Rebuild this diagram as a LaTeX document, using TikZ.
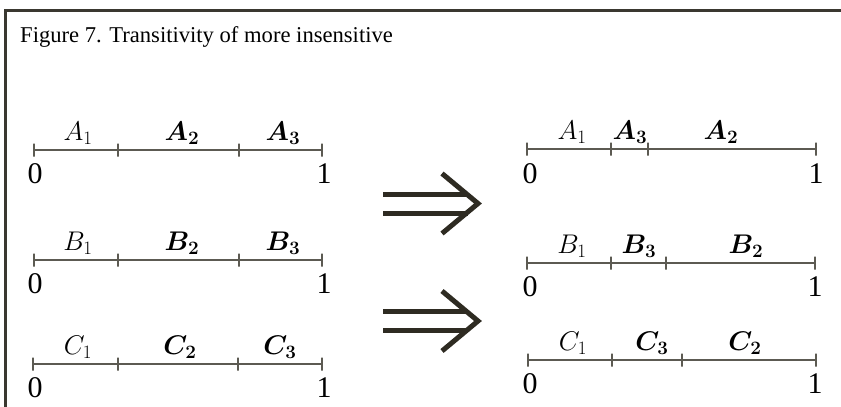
\RequirePackage{fix-cm}
\documentclass[tikz,border=0pt]{standalone}
\usepackage{fontspec}
\setmainfont{Liberation Serif}
\usepackage{bm}
\definecolor{trFrame}{HTML}{3A3830}
\definecolor{trGray}{HTML}{5C5A52}
\definecolor{trDark}{HTML}{2E2B22}
\begin{document}
\begin{tikzpicture}[x=1pt,y=-1pt]
\tikzset{
    trTitle/.style={anchor=base west,inner sep=0pt,font=\fontsize{22.6}{27}\selectfont},
    trEnd/.style={anchor=base,inner sep=0pt,font=\fontsize{30}{34}\selectfont},
    trLab/.style={anchor=base,inner sep=0pt,font=\fontsize{27}{32}\selectfont},
    trTick/.style={rectangle,draw=trGray,line width=1.3pt,minimum width=0pt,minimum height=13pt,inner sep=0pt},
    trLine/.style={draw=trGray,line width=1.4pt},
    trBars/.style={draw=trDark,line width=5pt,double=white,double distance=14pt},
    trHead/.style={draw=trDark,line width=5pt,line join=miter},
}
\useasboundingbox (0,0) rectangle (841,407);
\draw[trFrame,line width=3pt] (841,10) -- (5,10) -- (5,407);
\node[trTitle] (title) at (20,42) {Figure 7. Transitivity of more insensitive};

% left: A
\node[trTick] (la0) at (34,150) {};
\node[trTick] (la1) at (118,150) {};
\node[trTick] (la2) at (239,150) {};
\node[trTick] (la3) at (322,150) {};
\draw[trLine] (la0) -- (la3);
\node[trLab] (laA1) at (78,140) {$A_1$};
\node[trLab] (laA2) at (182,140) {$\bm{A_2}$};
\node[trLab] (laA3) at (283,140) {$\bm{A_3}$};
\node[trEnd] (laz) at (35,183) {0};
\node[trEnd] (lao) at (324,183) {1};

% left: B
\node[trTick] (lb0) at (34,260) {};
\node[trTick] (lb1) at (118,260) {};
\node[trTick] (lb2) at (239,260) {};
\node[trTick] (lb3) at (322,260) {};
\draw[trLine] (lb0) -- (lb3);
\node[trLab] (lbB1) at (78,250) {$B_1$};
\node[trLab] (lbB2) at (182,250) {$\bm{B_2}$};
\node[trLab] (lbB3) at (283,250) {$\bm{B_3}$};
\node[trEnd] (lbz) at (35,293) {0};
\node[trEnd] (lbo) at (324,293) {1};

% left: C
\node[trTick] (lc0) at (33,364) {};
\node[trTick] (lc1) at (118,364) {};
\node[trTick] (lc2) at (238,364) {};
\node[trTick] (lc3) at (322,364) {};
\draw[trLine] (lc0) -- (lc3);
\node[trLab] (lcC1) at (78,354) {$C_1$};
\node[trLab] (lcC2) at (180,354) {$\bm{C_2}$};
\node[trLab] (lcC3) at (280,354) {$\bm{C_3}$};
\node[trEnd] (lcz) at (35,397) {0};
\node[trEnd] (lco) at (324,397) {1};

% right: A
\node[trTick] (ra0) at (527,149) {};
\node[trTick] (ra1) at (611,149) {};
\node[trTick] (ra2) at (648,149) {};
\node[trTick] (ra3) at (816,149) {};
\draw[trLine] (ra0) -- (ra3);
\node[trLab] (raA1) at (572,139) {$A_1$};
\node[trLab] (raA3) at (630,139) {$\bm{A_3}$};
\node[trLab] (raA2) at (721,139) {$\bm{A_2}$};
\node[trEnd] (raz) at (530,183) {0};
\node[trEnd] (rao) at (816,183) {1};

% right: B
\node[trTick] (rb0) at (527,263) {};
\node[trTick] (rb1) at (611,263) {};
\node[trTick] (rb2) at (666,263) {};
\node[trTick] (rb3) at (815,263) {};
\draw[trLine] (rb0) -- (rb3);
\node[trLab] (rbB1) at (572,253) {$B_1$};
\node[trLab] (rbB3) at (639,253) {$\bm{B_3}$};
\node[trLab] (rbB2) at (746,253) {$\bm{B_2}$};
\node[trEnd] (rbz) at (530,296) {0};
\node[trEnd] (rbo) at (815,296) {1};

% right: C
\node[trTick] (rc0) at (528,360) {};
\node[trTick] (rc1) at (612,360) {};
\node[trTick] (rc2) at (682,360) {};
\node[trTick] (rc3) at (816,360) {};
\draw[trLine] (rc0) -- (rc3);
\node[trLab] (rcC1) at (573,350) {$C_1$};
\node[trLab] (rcC3) at (652,350) {$\bm{C_3}$};
\node[trLab] (rcC2) at (745,350) {$\bm{C_2}$};
\node[trEnd] (rcz) at (530,393) {0};
\node[trEnd] (rco) at (815,393) {1};

% arrows
\coordinate (arA) at (383,203.5);
\coordinate (arAtip) at (478,203.5);
\draw[trBars] (arA) -- ([xshift=-10pt]arAtip);
\draw[trHead] ([shift={(-36pt,30pt)}]arAtip) -- (arAtip) -- ([shift={(-36pt,-30pt)}]arAtip);
\coordinate (arB) at (383,321);
\coordinate (arBtip) at (478,321);
\draw[trBars] (arB) -- ([xshift=-10pt]arBtip);
\draw[trHead] ([shift={(-36pt,30pt)}]arBtip) -- (arBtip) -- ([shift={(-36pt,-30pt)}]arBtip);
\end{tikzpicture}
\end{document}
